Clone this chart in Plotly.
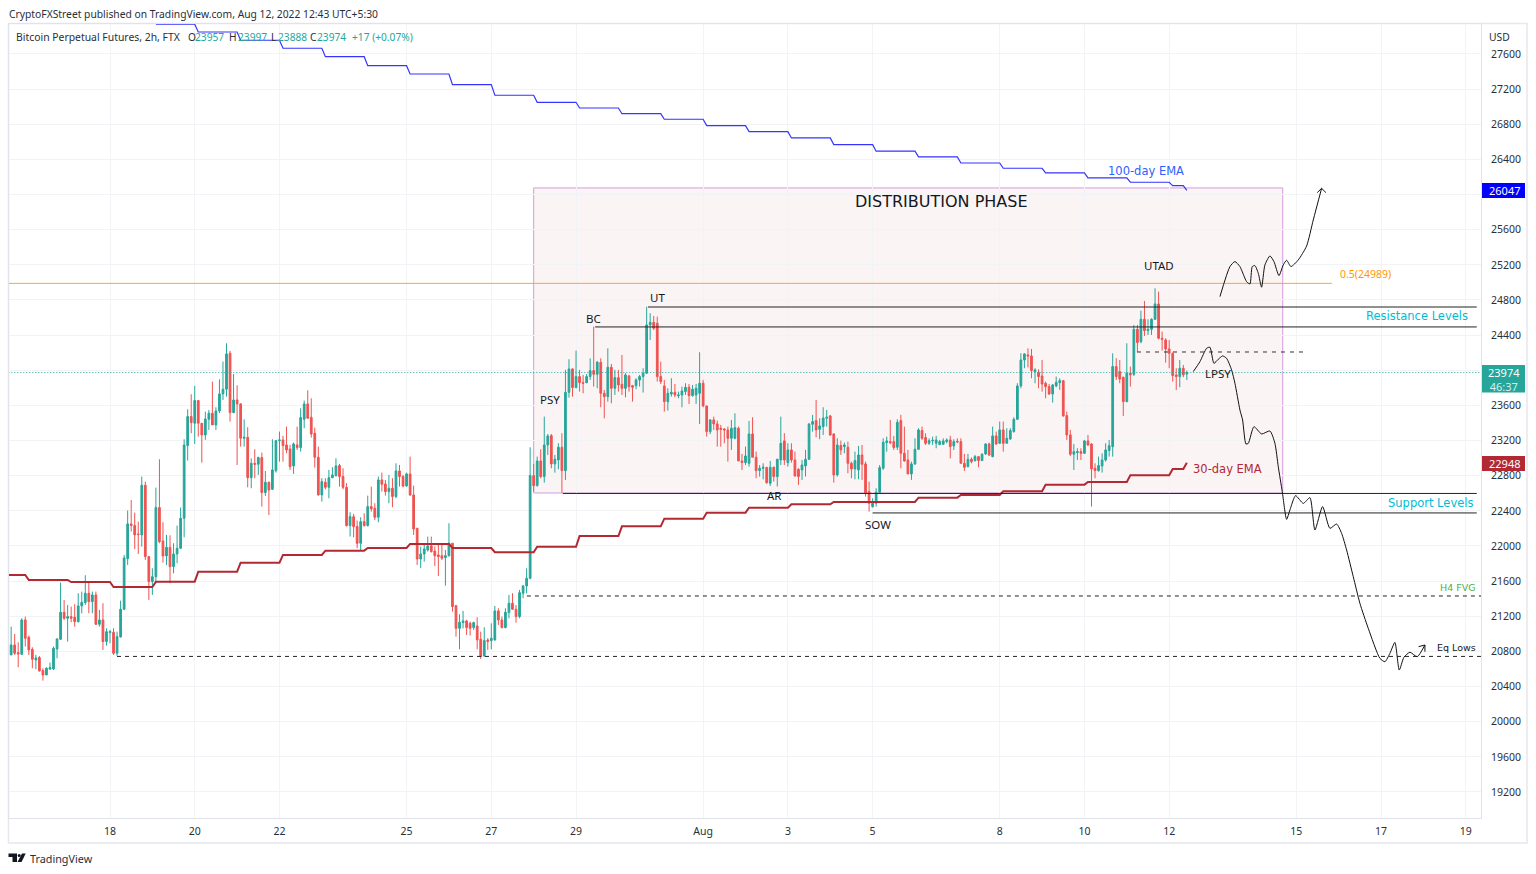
import numpy as np
import pandas as pd
import plotly.graph_objects as go

# 2h candles
bar_open = [
    20760,20874,20786,20767,21158,20961,20824,20703,20730,20582,
    20532,20600,20600,20828,20938,21246,21177,21196,21189,21139,
    21318,21356,21462,21367,21443,21109,21158,20912,21014,21018,
    20779,20965,21280,21856,22251,22232,22137,22126,22691,21879,
    21595,21651,22437,22057,21887,21985,21765,21909,21974,22315,
    23143,23473,23397,23655,23397,23264,23442,23511,23378,23537,
    23731,23784,24193,23518,23662,23617,23226,23237,22778,22941,
    22930,23006,22608,22725,22645,22858,23199,23207,23150,23105,
    22911,23150,23120,23442,23617,23465,23283,23010,22581,22725,
    22668,22778,22801,22915,22790,22668,22232,22334,22221,22031,
    22277,22232,22448,22429,22327,22752,22706,22619,22657,22562,
    22854,22790,22683,22820,22581,22202,21852,21909,21955,22000,
    21943,21898,21890,21868,21890,22031,21321,21063,21128,21147,
    21120,21071,21090,20938,20748,20931,20923,20931,21261,21158,
    21071,21242,21348,21280,21196,21462,21545,21632,22801,22687,
    22968,22790,23150,23256,22934,22979,23124,22858,23749,24015,
    23803,23928,23859,23859,23928,23996,23954,24091,23738,23700,
    24034,23795,23916,23840,23795,23935,23825,23825,23890,23928,
    23966,24516,24546,24535,23928,23821,23643,23730,23749,23711,
    23719,23757,23806,23711,23719,23738,23852,23594,23302,23435,
    23389,23340,23332,23321,23226,23226,23340,22968,22949,22941,
    23275,23010,22858,22884,22892,22714,22896,22790,22979,23196,
    22949,23093,22979,22873,22865,22911,22987,23385,23427,23328,
    23359,23454,23480,23275,22809,23143,23131,23124,22941,22877,
    22866,23036,22934,22619,22448,22486,22611,22885,23177,23188,
    23188,23124,23427,23055,22979,22820,22934,23101,23313,23234,
    23169,23196,23169,23154,23158,23188,23207,23139,23192,23188,
    22941,22903,22987,22972,23017,22972,23048,23161,23017,23253,
    23169,23321,23169,23218,23302,23442,23822,24117,24174,24163,
    23985,23977,23935,23852,23814,23730,23822,23859,23882,23484,
    23264,23044,23063,23074,23055,23196,23161,22884,22858,22911,
    22979,23086,23131,24042,23985,23920,23643,23966,23954,24466,
    24326,24580,24451,24466,24580,24755,24364,24345,24243,24193,
    23947,23928,24023,23957]
bar_high = [
    21082,20999,20904,21177,21196,20980,20847,20760,20748,20608,
    20620,20673,20855,20950,21583,21386,21329,21310,21337,21462,
    21481,21667,21595,21481,21481,21272,21348,21063,21044,21063,
    21025,21378,21898,22403,22524,22380,22277,22790,22733,21879,
    21746,22664,22987,22270,22126,22122,22031,22232,22437,23215,
    23556,23727,23822,23662,23397,23529,23548,23871,23579,23897,
    24099,24307,24220,23958,23829,23624,23442,23351,22998,23101,
    23017,23063,22854,22733,23215,23207,23302,23253,23359,23150,
    23177,23359,23567,23655,23772,23681,23347,23131,22771,22771,
    22866,22896,22998,22934,22884,22714,22384,22365,22289,22327,
    22372,22573,22676,22486,22790,22835,22752,22809,22771,22941,
    22922,22809,22835,23017,22687,22202,21993,22012,22107,22107,
    21993,22012,22019,21955,22259,22031,21329,21223,21261,21158,
    21139,21139,21189,21025,21075,20950,21120,21318,21291,21196,
    21291,21443,21462,21329,21500,21557,21746,23124,22934,23017,
    23101,23472,23275,23275,23036,23169,23283,24004,24125,24023,
    24224,24004,23947,23958,24136,24497,24106,24136,23776,24250,
    24072,24004,24004,24174,23966,23947,23833,23909,23947,24023,
    24724,24649,24618,24611,24098,23890,23795,23909,23844,23757,
    23814,23852,23844,23833,23844,24205,23890,23594,23442,23472,
    23427,23378,23340,23359,23435,23510,23359,23048,23131,23423,
    23465,23074,22922,22941,22903,22968,22903,22991,23472,23283,
    23169,23169,23074,22884,22979,23093,23397,23492,23662,23454,
    23579,23548,23492,23283,23226,23199,23177,23188,22960,23074,
    23139,23150,22960,22733,22543,22657,22922,23226,23245,23435,
    23253,23442,23492,23359,23093,22960,23226,23340,23359,23283,
    23226,23245,23253,23207,23226,23226,23253,23215,23226,23226,
    23048,23048,23006,23036,23025,23055,23169,23177,23359,23302,
    23416,23416,23340,23340,23465,23852,24193,24193,24250,24243,
    24023,24011,24117,23871,23844,23844,23928,23909,23890,23529,
    23321,23161,23112,23112,23207,23264,23169,22941,23017,23055,
    23169,23207,24193,24136,24117,23928,24307,24042,24516,24516,
    24679,24789,24580,24592,24933,24895,24440,24364,24345,24201,
    24023,24117,24061,23997]
bar_low = [
    20760,20760,20620,20760,20855,20760,20608,20597,20570,20468,
    20532,20589,20589,20722,20931,21158,20912,21132,21082,21128,
    21234,21329,21234,21234,21101,21082,20817,20866,20893,20760,
    20748,20957,21272,21784,22164,21966,21909,21993,21841,21386,
    21443,21576,22031,21811,21784,21576,21689,21803,21966,22099,
    22972,23283,23161,23245,22949,23207,23321,23378,23321,23511,
    23662,23700,23416,23511,22922,23131,23131,22668,22657,22771,
    22809,22448,22570,22353,22638,22835,22960,22960,23055,22865,
    22820,23093,23074,23340,23454,23234,22892,22573,22505,22645,
    22543,22771,22790,22676,22645,22221,22107,22099,21974,21955,
    22221,22221,22391,22296,22270,22619,22573,22486,22441,22543,
    22676,22668,22676,22570,22126,21784,21750,21822,21936,21925,
    21773,21659,21841,21549,21879,21253,20968,20824,21063,20987,
    20980,21044,20824,20714,20741,20817,20824,20923,21101,21063,
    21063,21177,21272,21128,21177,21405,21462,21621,22619,22676,
    22771,22721,23036,22884,22835,22873,22607,22752,23689,23700,
    23795,23757,23738,23852,23890,23814,23795,23579,23453,23643,
    23624,23719,23757,23719,23692,23757,23643,23784,23814,23746,
    23966,24345,24459,23871,23844,23529,23541,23700,23692,23681,
    23579,23719,23617,23700,23617,23389,23579,23245,23275,23321,
    23131,23131,23169,22960,23093,23214,22968,22865,22922,22903,
    23010,22771,22790,22759,22706,22683,22733,22676,22922,22922,
    22903,22949,22790,22695,22752,22790,22979,23302,23237,23215,
    23264,23359,23253,22721,22790,23036,23055,22828,22771,22759,
    22759,22752,22562,22391,22437,22448,22600,22866,23074,23158,
    23093,23093,22884,22960,22820,22752,22922,23093,23207,23150,
    23150,23150,23112,23150,23150,23169,22998,23093,23169,22941,
    22854,22896,22941,22960,22896,22968,23036,23025,23010,23150,
    23161,23074,23169,23207,23290,23435,23795,24023,24034,23909,
    23852,23795,23757,23681,23719,23632,23806,23776,23472,23207,
    23025,22865,22979,22979,23048,23139,22448,22771,22846,22835,
    22960,23017,23017,23890,23852,23480,23636,23814,23935,24212,
    24307,24391,24402,24402,24573,24353,24224,24087,24023,23871,
    23776,23806,23920,23888]
bar_close = [
    20874,20779,20771,21158,20950,20817,20711,20726,20578,20532,
    20608,20616,20836,20942,21246,21177,21196,21177,21139,21318,
    21359,21462,21367,21443,21109,21158,20912,21025,21025,20779,
    20968,21280,21864,22251,22232,22126,22130,22691,21879,21595,
    21651,22437,22050,21887,21985,21765,21909,21974,22315,23150,
    23473,23404,23655,23397,23264,23446,23511,23378,23537,23731,
    23784,24186,23518,23662,23617,23226,23237,22778,22941,22930,
    23006,22608,22725,22638,22866,23199,23207,23143,23093,22903,
    23161,23120,23461,23617,23454,23275,23010,22581,22733,22668,
    22778,22809,22911,22790,22668,22232,22334,22221,22031,22277,
    22232,22448,22422,22327,22752,22702,22619,22657,22562,22854,
    22790,22683,22820,22581,22194,21852,21909,21966,22000,21936,
    21890,21879,21860,21890,22031,21310,21063,21132,21147,21071,
    21063,21128,20931,20741,20923,20912,20950,21261,21158,21071,
    21246,21348,21280,21196,21469,21545,21632,22801,22687,22968,
    22790,23150,23252,22934,22987,23124,22858,23749,24015,23803,
    23928,23859,23852,23928,23996,23954,24091,23738,23700,24034,
    23795,23916,23833,23795,23947,23814,23806,23890,23928,23966,
    24516,24546,24478,23928,23871,23643,23738,23749,23719,23719,
    23765,23806,23711,23784,23795,23852,23594,23302,23435,23389,
    23321,23328,23321,23226,23340,23347,22968,22949,23025,23275,
    23010,22858,22884,22896,22721,22896,22790,22987,23169,22979,
    23093,22979,22797,22790,22922,22987,23389,23416,23321,23366,
    23457,23465,23264,22809,23150,23093,23150,22941,22877,22972,
    23036,22930,22600,22486,22486,22611,22892,23180,23196,23177,
    23120,23408,23055,22968,22820,22934,23101,23321,23226,23169,
    23199,23203,23207,23188,23196,23207,23131,23188,23184,22941,
    22896,22987,22960,23017,22972,23044,23161,23036,23253,23161,
    23321,23169,23226,23313,23442,23822,24117,24186,24163,23996,
    24004,23928,23844,23814,23730,23833,23863,23882,23480,23264,
    23044,23074,23074,23055,23196,23150,22877,22858,22915,22979,
    23093,23142,24042,23928,23901,23643,23966,23947,24466,24315,
    24580,24451,24466,24580,24755,24364,24353,24243,24193,23939,
    23928,24023,23947,23974]

# daily EMA levels, Jul 15 .. Aug 12
ema30_daily = [21670,21613,21590,21533,21594,21708,21810,21898,21947,21977,
               22023,21977,21929,21992,22114,22224,22311,22379,22436,22475,
               22501,22501,22550,22581,22623,22698,22729,22805,22877]
ema30_last = 22948
# Jul 19 .. Aug 12
ema100_daily = [27938,27850,27756,27665,27569,27467,27372,27251,27130,27050,
                26985,26920,26857,26784,26716,26644,26568,26493,26428,26359,
                26299,26246,26189,26140,26101]
ema100_last = 26047

# hand drawn paths, x in days after the "18" tick
up_days = [26.198,26.434,26.552,26.670,26.827,26.906,26.961,27.024,27.103,27.181,27.260,
           27.378,27.473,27.591,27.693,27.772,27.874,28.047,28.244,28.401,28.598]
up_prices = [24838,25180,25237,25180,25009,24982,25180,25191,25104,24945,25199,
             25301,25237,25077,25199,25252,25180,25256,25415,25711,26071]
up_head_days = [28.495,28.598,28.700]
up_head_prices = [26022,26071,26022]
down_days = [25.569,25.726,25.883,25.962,26.056,26.159,26.261,26.355,26.473,26.552,26.670,
             26.733,26.812,26.867,27.001,27.181,27.378,27.496,27.575,27.669,27.772,27.850,
             27.984,28.165,28.322,28.440,28.621,28.794,28.952,29.070,29.188,29.345,29.502,
             29.699,29.974,30.092,30.210,30.328,30.431,30.541,30.682,30.855,31.036]
down_prices = [23985,24098,24250,24262,24079,24125,24163,24136,24004,23852,23548,
               23434,23161,23168,23358,23275,23309,23168,22903,22618,22303,22410,
               22573,22485,22550,22182,22448,22201,22250,22144,21954,21651,21347,
               21063,20721,20683,20778,20903,20588,20733,20790,20740,20873]
down_head_days = [30.887,31.036,31.036]
down_head_prices = [20854,20873,20797]

# horizontal levels: price, start day
resistance_levels = [(24720, 12.70), (24493, 11.45)]
support_levels = [(22598, 10.69), (22376, 18.00)]
fvg_level = 21431
eq_lows_level = 20743
utad_level = 24208
fib_level = 24989
last_price = 23974

tick_dates = ["2022-07-18","2022-07-20","2022-07-22","2022-07-25","2022-07-27","2022-07-29",
              "2022-08-01","2022-08-03","2022-08-05","2022-08-08","2022-08-10","2022-08-12",
              "2022-08-15","2022-08-17","2022-08-19"]
tick_labels = ["18","20","22","25","27","29","Aug","3","5","8","10","12","15","17","19"]
price_ticks = list(range(19200, 27601, 400))
# these two sit under the price boxes
price_labels = ["" if p in (24000, 26000) else str(p) for p in price_ticks]

W, H = 1536, 874
L, R, T, B = 9, 1481, 24, 818
UP, DOWN = "#26a69a", "#ef5350"
INK = "#131722"
TEXT_FONT = "Noto Sans"

tick0 = pd.Timestamp("2022-07-18 01:30")

def day(d):
    return tick0 + pd.Timedelta(days=d)

def px(x):
    return (x - L) / (R - L)

def py(y):
    return (B - y) / (B - T)

bars = pd.date_range(end="2022-08-12 11:30", periods=len(bar_close), freq="2h")
ticks_x = [pd.Timestamp(d) + pd.Timedelta(minutes=90) for d in tick_dates]

# the daily EMA steps at the 03:30 bar
steps = ((bars - pd.Timedelta(hours=3, minutes=30)).floor("D") - pd.Timestamp("2022-07-15")).days
ema30 = np.array(ema30_daily)[steps].astype(float)
ema30[-1] = ema30_last
keep = steps >= 4
ema100 = np.array(ema100_daily)[steps[keep] - 4].astype(float)
ema100[-1] = ema100_last

fig = go.Figure()

def hline(price, d0, d1, color, dash="solid", width=1):
    fig.add_trace(go.Scatter(x=[day(d0), day(d1)], y=[price, price], mode="lines",
                             line=dict(color=color, dash=dash, width=width), hoverinfo="skip"))

hline(last_price, -2.4, 32.4, UP, "1px,2px")
hline(fib_level, -2.4, 28.84, "#ffa726")

fig.add_trace(go.Candlestick(
    x=bars, open=bar_open, high=bar_high, low=bar_low, close=bar_close,
    increasing=dict(line=dict(color=UP, width=1), fillcolor=UP),
    decreasing=dict(line=dict(color=DOWN, width=1), fillcolor=DOWN),
    whiskerwidth=0, hoverinfo="skip"))

# line runs in from the left edge, before the first bar
fig.add_trace(go.Scatter(x=[day(-2.4)] + list(bars), y=[ema30_daily[0]] + list(ema30), mode="lines",
                         line=dict(color="#b22833", width=2), hoverinfo="skip"))
fig.add_trace(go.Scatter(x=bars[keep], y=ema100, mode="lines", line=dict(color="#3535ff", width=1.2), hoverinfo="skip"))

for price, start in resistance_levels + support_levels:
    hline(price, start, 32.26, "#222222")
hline(fvg_level, 9.84, 32.36, "#222222", dash="4px,4px")
hline(eq_lows_level, 0.165, 32.36, "#222222", dash="4px,4px")
hline(utad_level, 24.24, 28.18, "#333333", dash="4px,5px")

# drawn forecast paths
for xs, ys, shape in [(up_days, up_prices, "spline"), (up_head_days, up_head_prices, "linear"),
                      (down_days, down_prices, "spline"), (down_head_days, down_head_prices, "linear")]:
    fig.add_trace(go.Scatter(x=[day(d) for d in xs], y=ys, mode="lines",
                             line=dict(color="#111111", width=1, shape=shape, smoothing=0.6),
                             hoverinfo="skip"))

fig.add_shape(type="rect", x0=day(10.0), x1=day(27.68), y0=22603, y1=26075, layer="below",
              line=dict(color="#d39be0", width=1), fillcolor="rgba(178,40,51,0.05)")

# frame around the whole widget
fig.add_shape(type="rect", xref="paper", yref="paper", x0=px(8.5), x1=px(1527), y0=py(843), y1=py(23.5),
              line=dict(color="#e6e8ee", width=1.5), layer="below")

def label(x, y, text, size=11.5, color=INK, family=TEXT_FONT, anchor="center", **kw):
    if anchor == "left":
        x -= 2
    fig.add_annotation(xref="paper", yref="paper", x=px(x), y=py(y), text=text, showarrow=False,
                       xanchor=anchor, yanchor="middle", font=dict(size=size, color=color, family=family), **kw)

def price_box(y0, y1, color):
    fig.add_shape(type="rect", xref="paper", yref="paper", x0=px(1482), x1=px(1525), y0=py(y1), y1=py(y0),
                  fillcolor=color, line=dict(width=0), layer="above")

label(9, 14, "CryptoFXStreet published on TradingView.com, Aug 12, 2022 12:43 UTC+5:30", size=10.3, color="#2a2e39", anchor="left")
label(16, 37, "Bitcoin Perpetual Futures, 2h, FTX", size=10.4, color="#2a2e39", anchor="left")
for x, text, color in [(188, "O", "#2a2e39"), (195, "23957", UP), (229, "H", "#2a2e39"), (238, "23997", UP),
                       (271, "L", "#2a2e39"), (278, "23888", UP), (310, "C", "#2a2e39"), (317, "23974", UP),
                       (352, "+17 (+0.07%)", UP)]:
    label(x, 37, text, size=10.2, color=color, anchor="left")

label(941, 201, "DISTRIBUTION PHASE", size=16, family="DejaVu Sans")
label(1146, 171, "100-day EMA", size=11.5, color="#2f5fff", family="DejaVu Sans")
label(1227, 469, "30-day EMA", size=11.5, color="#b22833", family="DejaVu Sans")
label(1365, 274, "0.5(24989)", size=10.5, color="#ff9800")
label(1159, 265, "UTAD")
label(657, 297, "UT")
label(593, 318, "BC")
label(550, 400, "PSY")
label(774, 496, "AR")
label(878, 524, "SOW")
label(1218, 373, "LPSY")
label(1417, 316, "Resistance Levels", size=11.5, color="#00bcd4", family="DejaVu Sans")
label(1430, 503, "Support Levels", size=11.5, color="#00bcd4", family="DejaVu Sans")
label(1458, 587, "H4 FVG", size=9.5, color="#4caf50", family="DejaVu Sans")
label(1456, 647, "Eq Lows", size=9.5, family="DejaVu Sans")

label(1499, 37, "USD", size=10.3, color="#2a2e39")
price_box(183, 198, "#0000ff")
label(1504, 190.5, "26047", size=11, color="white")
price_box(365, 392.5, UP)
label(1504, 379, "23974<br><span style='color:#d5efec'>46:37</span>", size=11, color="white")
price_box(456, 471, "#b22833")
label(1504, 463.5, "22948", size=11, color="white")

# TradingView mark
for path in ["M 8.5 853.5 L 17 853.5 L 17 862 L 12.5 862 L 12.5 857 L 8.5 857 Z",
             "M 17.5 862 L 21.5 862 L 25.7 853.5 L 22 853.5 Z"]:
    nums = path.split()
    out = []
    i = 0
    while i < len(nums):
        if nums[i] in ("M", "L"):
            out += [nums[i], f"{px(float(nums[i + 1])):.5f}", f"{py(float(nums[i + 2])):.5f}"]
            i += 3
        else:
            out.append(nums[i])
            i += 1
    fig.add_shape(type="path", xref="paper", yref="paper", path=" ".join(out),
                  fillcolor="#131722", line=dict(width=0))
fig.add_shape(type="circle", xref="paper", yref="paper", x0=px(17.7), x1=px(20.7), y0=py(857), y1=py(854),
              fillcolor="#131722", line=dict(width=0))
label(30, 858, "TradingView", size=10.8, color="#2a2e39", anchor="left")

fig.update_layout(
    width=W, height=H, showlegend=False, plot_bgcolor="white", paper_bgcolor="white",
    margin=dict(l=L, r=W - R, t=T, b=H - B),
    xaxis=dict(type="date", range=[day(-2.384), day(32.36)], rangeslider=dict(visible=False),
               tickmode="array", tickvals=ticks_x, ticktext=tick_labels,
               showgrid=True, gridcolor="#f2f3f6", zeroline=False,
               showline=True, linecolor="#e0e3eb", mirror=True,
               ticks="outside", ticklen=3, tickcolor="rgba(0,0,0,0)",
               tickfont=dict(size=10.5, color="#2a2e39", family=TEXT_FONT)),
    yaxis=dict(side="right", range=[18904, 27941], tickmode="array", tickvals=price_ticks,
               ticktext=price_labels, showgrid=True, gridcolor="#f2f3f6", zeroline=False,
               showline=True, linecolor="#e0e3eb", mirror=True,
               ticks="outside", ticklen=7, tickcolor="rgba(0,0,0,0)",
               tickfont=dict(size=10.5, color="#2a2e39", family=TEXT_FONT)),
)

fig.write_html("out.html", config=dict(displayModeBar=False),
               post_script="document.body.style.margin='0';document.body.style.overflow='hidden';")
